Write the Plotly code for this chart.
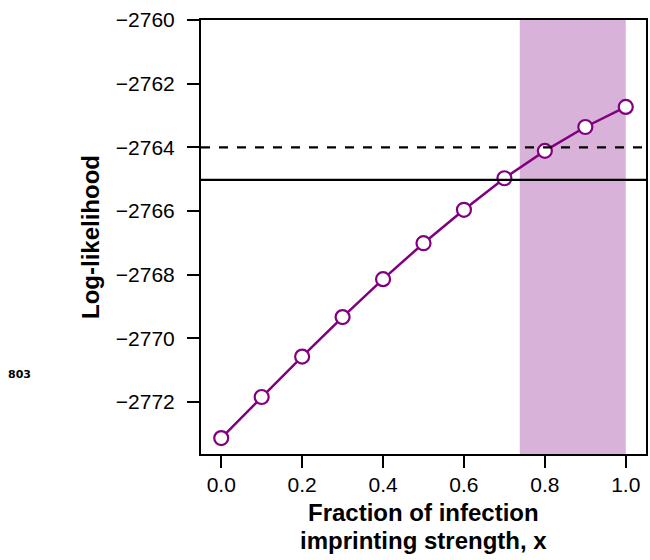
import plotly.graph_objects as go

# Imprinting strength fractions and their log-likelihoods
fraction = [0.0, 0.1, 0.2, 0.3, 0.4, 0.5, 0.6, 0.7, 0.8, 0.9, 1.0]
log_lik = [-2773.13, -2771.84, -2770.57, -2769.33, -2768.14, -2767.01,
           -2765.96, -2764.97, -2764.11, -2763.36, -2762.73]

# Reference levels and the confidence interval on x
solid_level = -2765.02
dashed_level = -2764.0
ci_low, ci_high = 0.738, 1.0

y_ticks = [-2772, -2770, -2768, -2766, -2764, -2762, -2760]
x_ticks = [0.0, 0.2, 0.4, 0.6, 0.8, 1.0]

PURPLE = "#800080"
FONT = "Liberation Sans, Arial, sans-serif"

fig = go.Figure()

fig.add_vrect(x0=ci_low, x1=ci_high, fillcolor=PURPLE, opacity=0.3,
              line_width=0, layer="below")

fig.add_hline(y=solid_level, line=dict(color="black", width=2.2))
fig.add_hline(y=dashed_level, line=dict(color="black", width=2.2, dash="dash"))

fig.add_trace(go.Scatter(
    x=fraction, y=log_lik, mode="lines+markers",
    line=dict(color=PURPLE, width=2.5),
    marker=dict(size=14, color="white", line=dict(color=PURPLE, width=2.2)),
    showlegend=False, cliponaxis=False,
))

axis_common = dict(
    showline=True, linecolor="black", linewidth=2, mirror=True,
    ticks="outside", ticklen=12, tickwidth=2, tickcolor="black",
    showgrid=False, zeroline=False,
    tickfont=dict(family=FONT, size=21, color="black"),
)

fig.update_xaxes(range=[-0.05, 1.05], tickvals=x_ticks,
                 ticktext=[f"{v:.1f}" for v in x_ticks],
                 ticklabelstandoff=-1, **axis_common)
fig.update_yaxes(range=[-2773.63, -2760], tickvals=y_ticks,
                 ticklabelstandoff=8, **axis_common)

title_font = dict(size=24, family=FONT, color="black")

fig.update_layout(
    width=650, height=560,
    margin=dict(l=201, r=2, t=20, b=106),
    plot_bgcolor="white", paper_bgcolor="white",
    font=dict(family=FONT, color="black"),
    annotations=[
        dict(text="<b>Log-likelihood</b>", xref="paper", yref="paper",
             x=0, y=0.5, xanchor="center", yanchor="middle",
             xshift=-111, textangle=-90, showarrow=False, font=title_font),
        dict(text="<b>Fraction of infection</b>",
             xref="paper", yref="paper", x=0.5, y=0, yshift=-43,
             xanchor="center", yanchor="top", showarrow=False,
             font=title_font),
        dict(text="<b>imprinting strength, x</b>",
             xref="paper", yref="paper", x=0.5, y=0, yshift=-71,
             xanchor="center", yanchor="top", showarrow=False,
             font=title_font),
        dict(text="<b>803</b>", xref="paper", yref="paper",
             x=0, y=0, xanchor="left", yanchor="middle",
             xshift=-195, yshift=80, showarrow=False,
             font=dict(size=11, family="DejaVu Sans, sans-serif",
                       color="black")),
    ],
)

fig.write_html("out.html")
